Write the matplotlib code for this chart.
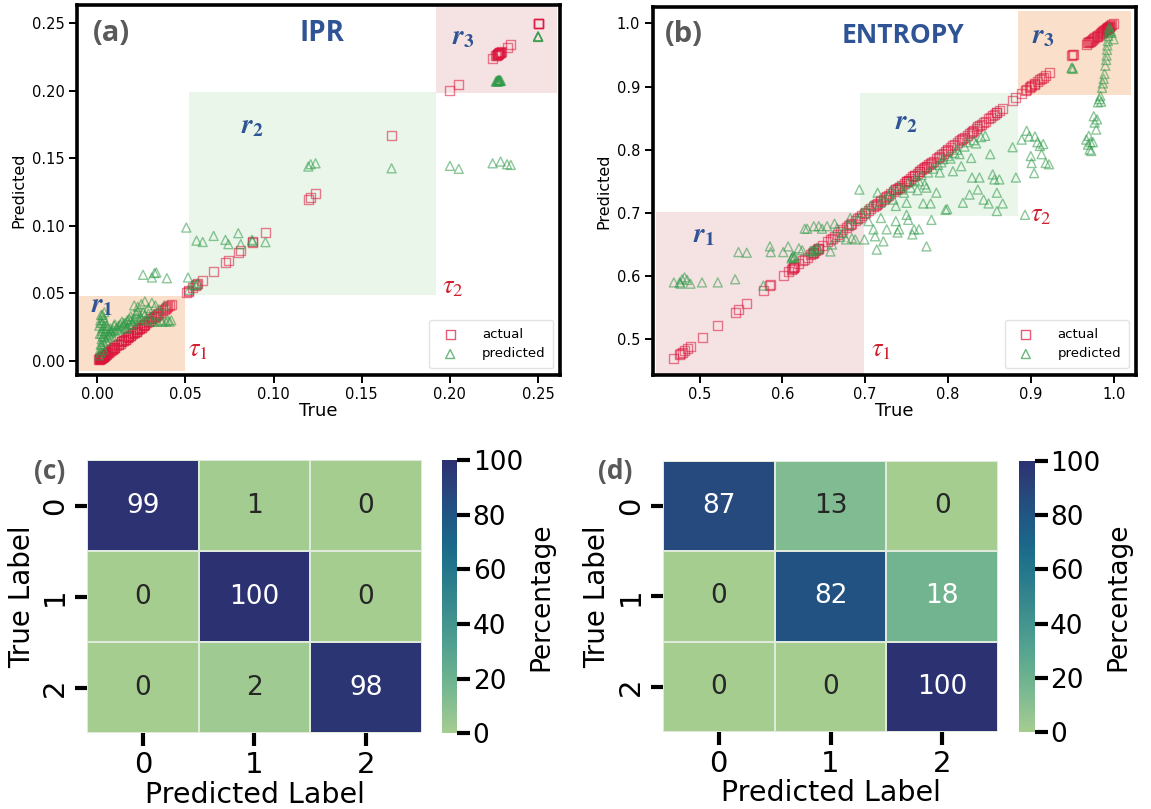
import numpy as np
import matplotlib
matplotlib.use("Agg")
import matplotlib.pyplot as plt
from matplotlib.patches import Rectangle
import seaborn as sns

plt.rcParams['mathtext.fontset'] = 'stix'
plt.rcParams['font.family'] = ['DejaVu Sans']

#------------------------------- data ----------------------------------#
# IPR: true value and predicted value of each sample
ipr_true = [0.001, 0.0015, 0.002, 0.002, 0.0025, 0.0025, 0.003, 0.003, 0.003, 0.0035,
            0.0035, 0.004, 0.004, 0.0045, 0.005, 0.0055, 0.006, 0.0065, 0.007, 0.0075,
            0.008, 0.0085, 0.009, 0.0095, 0.010, 0.011, 0.012, 0.013, 0.014, 0.015,
            0.016, 0.017, 0.018, 0.019, 0.020, 0.021, 0.022, 0.023, 0.024, 0.025,
            0.026, 0.027, 0.028, 0.029, 0.030, 0.031, 0.032, 0.033, 0.034, 0.035,
            0.036, 0.037, 0.038, 0.039, 0.040, 0.041, 0.042,
            0.0012, 0.0018, 0.0022, 0.0028, 0.0032, 0.0038, 0.0042, 0.0015, 0.0025, 0.0035,
            0.002, 0.003, 0.006, 0.008, 0.010, 0.012, 0.014, 0.016, 0.018, 0.020,
            0.022, 0.024, 0.021, 0.023, 0.025, 0.027, 0.029, 0.019, 0.017, 0.015,
            0.026, 0.031, 0.0325, 0.0335, 0.0395,
            0.0505, 0.0515, 0.052, 0.054, 0.0563, 0.056, 0.057, 0.0598, 0.066, 0.0727,
            0.0744, 0.080, 0.0814, 0.0878, 0.088, 0.0954, 0.1197, 0.121, 0.1238, 0.1669,
            0.200, 0.205, 0.2242, 0.2287, 0.2324, 0.2345,
            0.226, 0.2265, 0.227, 0.2272, 0.2275, 0.2278, 0.228, 0.2283, 0.2285, 0.229,
            0.2268, 0.2277, 0.250, 0.250, 0.250, 0.250]
ipr_pred = [0.004, 0.008, 0.012, 0.006, 0.016, 0.020, 0.010, 0.024, 0.028, 0.014,
            0.032, 0.018, 0.036, 0.022, 0.015, 0.026, 0.017, 0.020, 0.019, 0.024,
            0.021, 0.018, 0.023, 0.026, 0.022, 0.024, 0.023, 0.027, 0.025, 0.026,
            0.028, 0.024, 0.027, 0.030, 0.029, 0.031, 0.035, 0.040, 0.033, 0.032,
            0.036, 0.044, 0.030, 0.039, 0.031, 0.043, 0.029, 0.041, 0.029, 0.038,
            0.030, 0.029, 0.041, 0.029, 0.030, 0.029, 0.030,
            0.026, 0.030, 0.034, 0.022, 0.018, 0.030, 0.026, 0.020, 0.012, 0.008,
            0.028, 0.034, 0.024, 0.022, 0.027, 0.026, 0.029, 0.024, 0.031, 0.027,
            0.032, 0.030, 0.041, 0.037, 0.042, 0.034, 0.035, 0.033, 0.030, 0.028,
            0.0637, 0.0617, 0.065, 0.0654, 0.0612,
            0.0987, 0.0617, 0.0526, 0.0560, 0.089, 0.0563, 0.0575, 0.088, 0.0925, 0.0896,
            0.0864, 0.0945, 0.0864, 0.0896, 0.0885, 0.0879, 0.1439, 0.1456, 0.1463, 0.1426,
            0.1444, 0.1422, 0.1463, 0.1476, 0.1456, 0.1451,
            0.2068, 0.2072, 0.2075, 0.2070, 0.2078, 0.2073, 0.2080, 0.2071, 0.2076, 0.2074,
            0.2069, 0.2077, 0.2401, 0.2403, 0.2399, 0.2402]

# ENTROPY: true value and predicted value of each sample
ent_true = [0.469, 0.476, 0.477, 0.479, 0.482, 0.485, 0.489, 0.503, 0.522, 0.543,
            0.547, 0.557, 0.577, 0.585, 0.586, 0.601, 0.607, 0.612, 0.611, 0.613,
            0.614, 0.615, 0.620, 0.624, 0.627, 0.630, 0.634, 0.636, 0.638, 0.640,
            0.642, 0.644, 0.638, 0.644, 0.648, 0.654, 0.658, 0.660, 0.663, 0.666,
            0.670, 0.673, 0.677, 0.680, 0.682, 0.684, 0.688, 0.691, 0.693, 0.696, 0.699,
            0.701, 0.704, 0.707, 0.710, 0.712, 0.714, 0.715, 0.718, 0.719, 0.722,
            0.724, 0.726, 0.728, 0.731, 0.734, 0.737, 0.737, 0.739, 0.741, 0.741,
            0.744, 0.747, 0.750, 0.750, 0.752, 0.752, 0.755, 0.757, 0.759, 0.760,
            0.763, 0.765, 0.765, 0.768, 0.770, 0.772, 0.774, 0.774, 0.776, 0.779,
            0.780, 0.782, 0.786, 0.788, 0.790, 0.792, 0.794, 0.797, 0.799, 0.800,
            0.803, 0.806, 0.808, 0.811, 0.814, 0.816, 0.818, 0.820, 0.823, 0.826,
            0.828, 0.829, 0.831, 0.834, 0.836, 0.838, 0.840, 0.843, 0.845, 0.849,
            0.851, 0.854, 0.856, 0.859, 0.859, 0.862, 0.866, 0.878, 0.882,
            0.889, 0.893, 0.895, 0.898, 0.900, 0.901, 0.904, 0.905, 0.908, 0.911,
            0.913, 0.915, 0.918, 0.922, 0.949, 0.950, 0.951,
            0.967, 0.969, 0.970, 0.971, 0.973, 0.972, 0.975, 0.976, 0.977, 0.979,
            0.980, 0.981, 0.983, 0.984, 0.985, 0.986, 0.987, 0.988, 0.989, 0.990,
            0.991, 0.9915, 0.992, 0.9925, 0.993, 0.9935, 0.994, 0.9945, 0.995, 0.996,
            0.9975, 1.000]
ent_pred = [0.590, 0.590, 0.588, 0.595, 0.598, 0.594, 0.588, 0.590, 0.590, 0.595,
            0.638, 0.637, 0.585, 0.647, 0.638, 0.638, 0.647, 0.630, 0.628, 0.632,
            0.629, 0.631, 0.644, 0.641, 0.675, 0.675, 0.640, 0.638, 0.642, 0.640,
            0.645, 0.643, 0.679, 0.679, 0.675, 0.679, 0.639, 0.650, 0.683, 0.676,
            0.662, 0.668, 0.658, 0.681, 0.692, 0.660, 0.658, 0.690, 0.737, 0.700, 0.658,
            0.705, 0.687, 0.712, 0.674, 0.663, 0.642, 0.732, 0.716, 0.692, 0.655,
            0.722, 0.674, 0.728, 0.735, 0.721, 0.687, 0.711, 0.669, 0.742, 0.674,
            0.737, 0.732, 0.697, 0.716, 0.689, 0.748, 0.740, 0.666, 0.674, 0.752,
            0.736, 0.674, 0.750, 0.760, 0.715, 0.745, 0.647, 0.740, 0.764, 0.715,
            0.689, 0.770, 0.732, 0.776, 0.764, 0.780, 0.785, 0.705, 0.706, 0.790,
            0.786, 0.766, 0.795, 0.800, 0.793, 0.774, 0.716, 0.805, 0.812, 0.729,
            0.787, 0.756, 0.815, 0.810, 0.737, 0.756, 0.820, 0.721, 0.822, 0.715,
            0.793, 0.761, 0.753, 0.703, 0.732, 0.753, 0.715, 0.804, 0.756,
            0.816, 0.697, 0.830, 0.821, 0.790, 0.779, 0.763, 0.821, 0.812, 0.806,
            0.793, 0.809, 0.779, 0.777, 0.929, 0.930, 0.928,
            0.816, 0.808, 0.822, 0.800, 0.798, 0.812, 0.812, 0.853, 0.843, 0.832,
            0.848, 0.875, 0.880, 0.885, 0.876, 0.898, 0.905, 0.912, 0.920, 0.933,
            0.942, 0.949, 0.958, 0.965, 0.972, 0.980, 0.986, 0.991, 0.994, 0.988,
            0.985, 0.975]

# confusion matrices (percent)
labels = [0, 1, 2]
cm_ipr = [[99, 1, 0],
          [0, 100, 0],
          [0, 2, 98]]
cm_ent = [[87, 13, 0],
          [0, 82, 18],
          [0, 0, 100]]

#------------------------------- style ---------------------------------#
sq_col = "crimson"
tri_col = "#2e9a48"
blue = "#2f5496"
red = "#d0202e"
gray = "#595959"
peach = "#fadfca"
pink = "#f5e2e2"
mint = "#eaf6ea"

def scatter_panel(ax, true, pred, boxes, xlim, ylim, ticks_x, ticks_y, fmt):
    for (x0, x1, y0, y1, c) in boxes:
        ax.add_patch(Rectangle((x0, y0), x1 - x0, y1 - y0, facecolor=c, edgecolor="none", zorder=0))
    ax.scatter(true, true, s=42, marker="s", facecolors="none", edgecolors=sq_col,
               linewidths=1.0, alpha=0.55, label="actual", zorder=2)
    ax.scatter(true, pred, s=42, marker="^", facecolors="none", edgecolors=tri_col,
               linewidths=1.0, alpha=0.55, label="predicted", zorder=3)
    ax.set_xlim(*xlim)
    ax.set_ylim(*ylim)
    ax.set_xticks(ticks_x)
    ax.set_yticks(ticks_y)
    ax.xaxis.set_major_formatter(plt.FormatStrFormatter(fmt))
    ax.yaxis.set_major_formatter(plt.FormatStrFormatter(fmt))
    ax.tick_params(direction="out", length=6, width=1.4, labelsize=10.5, pad=3)
    for sp in ax.spines.values():
        sp.set_linewidth(2.6)
    ax.set_xlabel("True", fontsize=13, labelpad=0)
    ax.set_ylabel("Predicted", fontsize=11.5, labelpad=4)
    leg = ax.legend(loc="lower right", fontsize=9.5, handletextpad=1.4,
                    frameon=True, fancybox=True, borderpad=0.6)
    leg.get_frame().set_edgecolor("#dcdcdc")
    for h in leg.legend_handles:
        h.set_alpha(0.7)

def rlabel(ax, x, y, n):
    ax.text(x, y, r"$\mathbfit{r}_{\mathbf{%d}}$" % n, color=blue, fontsize=20,
            ha="center", va="center")

def tlabel(ax, x, y, n):
    ax.text(x, y, r"$\tau_{%d}$" % n, color=red, fontsize=19, ha="center", va="center")

fig = plt.figure(figsize=(11.51, 8.09), dpi=100)

#------------------------------ panel a --------------------------------#
ax_a = fig.add_axes([0.0673, 0.5365, 0.4192, 0.4574])
scatter_panel(ax_a, ipr_true, ipr_pred,
              [(-0.0101, 0.0497, -0.0079, 0.0481, peach),
               (0.0521, 0.1923, 0.0484, 0.1989, mint),
               (0.1923, 0.2607, 0.1987, 0.2618, pink)],
              (-0.0112, 0.2624), (-0.0105, 0.2636),
              [0, 0.05, 0.10, 0.15, 0.20, 0.25], [0, 0.05, 0.10, 0.15, 0.20, 0.25], "%.2f")
ax_a.text(0.0078, 0.2426, "(a)", family="Open Sans", fontweight="bold", fontsize=21,
          color=gray, ha="center", va="center")
ax_a.text(0.1274, 0.2426, "IPR", family="Open Sans", fontweight="bold", fontsize=20,
          color=blue, ha="center", va="center")
rlabel(ax_a, 0.0027, 0.0415, 1)
rlabel(ax_a, 0.0882, 0.1747, 2)
rlabel(ax_a, 0.2077, 0.2401, 3)
tlabel(ax_a, 0.0573, 0.0081, 1)
tlabel(ax_a, 0.2016, 0.0550, 2)

#------------------------------ panel b --------------------------------#
ax_b = fig.add_axes([0.5671, 0.5365, 0.4195, 0.4553])
scatter_panel(ax_b, ent_true, ent_pred,
              [(0.448, 0.6984, 0.446, 0.701, pink),
               (0.6936, 0.8845, 0.6958, 0.8905, mint),
               (0.8845, 1.0212, 0.8862, 1.0201, peach)],
              (0.4435, 1.0265), (0.4435, 1.0265),
              [0.5, 0.6, 0.7, 0.8, 0.9, 1.0], [0.5, 0.6, 0.7, 0.8, 0.9, 1.0], "%.1f")
ax_b.text(0.481, 0.983, "(b)", family="Open Sans", fontweight="bold", fontsize=21,
          color=gray, ha="center", va="center")
ax_b.text(0.7456, 0.9815, "ENTROPY", family="Open Sans", fontweight="bold", fontsize=19,
          color=blue, ha="center", va="center")
rlabel(ax_b, 0.5053, 0.6656, 1)
rlabel(ax_b, 0.7500, 0.8455, 2)
rlabel(ax_b, 0.9153, 0.9804, 3)
tlabel(ax_b, 0.7191, 0.4841, 1)
tlabel(ax_b, 0.9123, 0.6974, 2)

#---------------------------- panels c, d ------------------------------#
cmap = sns.color_palette("crest", as_cmap=True)

def heat_panel(ax, cax, cm, tag, tagpos):
    sns.heatmap(np.array(cm), ax=ax, cbar_ax=cax, cmap=cmap, vmin=0, vmax=100,
                annot=True, fmt="d", annot_kws={"size": 19},
                linewidths=0.15, linecolor="#dfe9dc",
                xticklabels=labels, yticklabels=labels,
                cbar_kws={"label": "Percentage"})
    ax.tick_params(labelsize=21, length=9, width=3, pad=4)
    ax.set_xlabel("Predicted Label", fontsize=20.5, labelpad=1)
    ax.set_ylabel("True Label", fontsize=20, labelpad=4)
    cax.tick_params(labelsize=19, length=9, width=3, pad=2)
    cax.yaxis.label.set_size(19)
    cax.set_yticks([0, 20, 40, 60, 80, 100])
    fig.text(tagpos[0], tagpos[1], tag, family="Open Sans", fontweight="bold",
             fontsize=19, color=gray, ha="center", va="center")

ax_c = fig.add_axes([0.0758, 0.0936, 0.2906, 0.3378])
cax_c = fig.add_axes([0.3838, 0.0936, 0.0136, 0.3378])
heat_panel(ax_c, cax_c, cm_ipr, "(c)", (0.0434, 0.4166))

ax_d = fig.add_axes([0.5759, 0.0952, 0.2913, 0.3350])
cax_d = fig.add_axes([0.8852, 0.0952, 0.0136, 0.3350])
heat_panel(ax_d, cax_d, cm_ent, "(d)", (0.5345, 0.4169))

plt.savefig("out.png", dpi=100)
